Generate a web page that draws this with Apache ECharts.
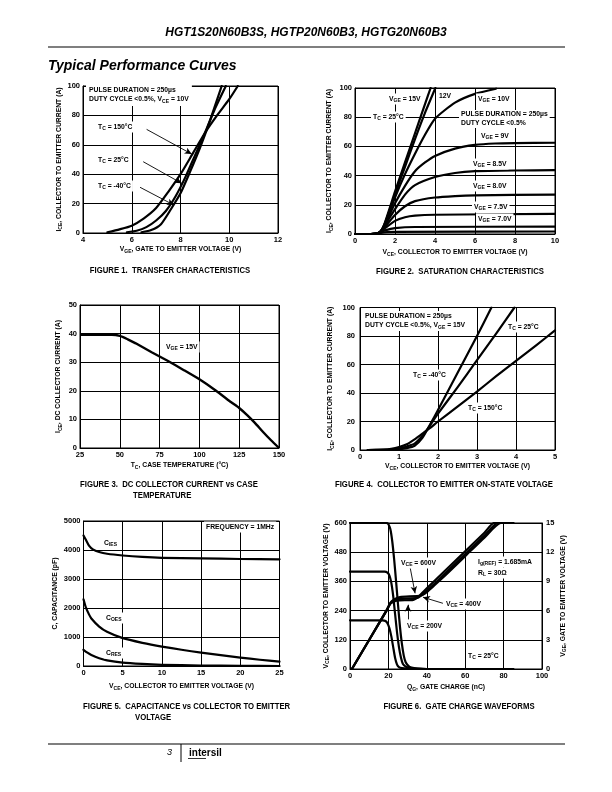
<!DOCTYPE html>
<html><head><meta charset="utf-8">
<script src="https://cdn.jsdelivr.net/npm/echarts@6/dist/echarts.min.js"></script>
<style>html,body{margin:0;padding:0;background:#fff;}#c{width:612px;height:792px;}</style>
</head><body><div id="c"></div>
<script>
// ---------------- DATA ----------------
// Figure 1: transfer characteristics  [VGE, ICE]
const f1XRange = [4, 12, 2];
const f1YRange = [0, 100, 20];
const f1Tc150 = [[5.0,0.5],[5.5,2.5],[6,5],[6.5,10],[7,17],[7.5,28],[8,40],[8.5,54],[9,68],[9.5,80],[10,91],[10.35,100]];
const f1Tc25  = [[5.8,0.5],[6.2,1.5],[6.6,4],[7,8.5],[7.4,15],[7.8,25],[8.2,38],[8.6,53],[9,68],[9.4,84],[9.86,100]];
const f1TcM40 = [[6.4,0.5],[6.8,2],[7.2,6],[7.6,16],[8,27],[8.4,42],[8.8,58],[9.2,76],[9.69,100]];
const f1Arrows = [[[6.61,70.5],[8.46,53.7]], [[6.47,48.5],[8.05,33.8]], [[6.34,31.1],[7.73,19]]];

// Figure 2: saturation characteristics [VCE, ICE]
const f2XRange = [0, 10, 2];
const f2YRange = [0, 100, 20];
const f2Vge15 = [[0,0],[0.8,0],[1.1,0.3],[1.3,2],[1.5,8],[2,29],[2.5,49],[3,69],[3.5,89],[3.78,100]];
const f2Vge12 = [[0,0],[0.8,0],[1.1,0.3],[1.3,2],[1.5,7.5],[2,27],[2.5,46],[3,65],[3.5,83],[4.02,100]];
const f2Vge10 = [[0,0],[0.8,0],[1.1,0.3],[1.3,2],[1.5,7],[2,25],[2.5,41],[3,55],[3.5,68],[4,79],[5,90],[6,96],[7.05,99.5]];
const f2Vge9  = [[0,0],[0.8,0],[1.1,0.3],[1.3,2],[1.5,6.5],[2,21],[2.5,33],[3,43],[3.5,49],[4,53.5],[5,58.5],[6,61],[7,62],[8,62.3],[10,62.5]];
const f2Vge85 = [[0,0],[0.8,0],[1.1,0.3],[1.3,2],[1.5,6],[2,17],[2.5,27],[3,33.5],[4,39],[5,41.8],[6,43],[8,43.5],[10,43.7]];
const f2Vge8  = [[0,0],[0.8,0],[1.1,0.3],[1.3,2],[1.5,5],[2,13],[2.5,19],[3,22.5],[4,25],[5,26],[6,26.5],[10,27]];
const f2Vge75 = [[0,0],[0.8,0],[1.1,0.3],[1.3,1.8],[1.5,4],[2,9],[2.5,11.5],[3,12.6],[4,13.2],[10,13.8]];
const f2Vge7  = [[0,0],[0.8,0],[1.1,0.3],[1.3,1.3],[1.5,2.5],[2,4],[3,4.8],[10,5]];
const f2Vge65 = [[0,0],[0.8,0],[1.1,0.2],[1.3,0.8],[1.6,1.3],[2,1.5],[10,1.7]];

// Figure 3: DC collector current vs case temperature [TC, ICE]
const f3XRange = [25, 150, 25];
const f3YRange = [0, 50, 10];
const f3Vge15 = [[25,39.6],[35,39.6],[45,39.6],[50,39.2],[55,38],[60,36.6],[70,33.5],[80,30.5],[90,27.3],[100,24],[110,20.2],[120,16],[125,14],[130,11.5],[135,8.7],[140,5.6],[145,2.7],[150,0]];

// Figure 4: collector to emitter on-state voltage [VCE, ICE]
const f4XRange = [0, 5, 1];
const f4YRange = [0, 100, 20];
const f4Tc150 = [[0.2,0],[0.6,0.3],[0.8,0.8],[1,2],[1.2,4],[1.4,7.5],[1.6,11.5],[1.8,15.5],[2,20],[2.5,30.5],[3,41],[3.5,52],[4,62.5],[4.5,73],[5,84]];
const f4Tc25  = [[0.2,0],[0.6,0.1],[0.8,0.3],[1,1],[1.2,2.5],[1.4,4.5],[1.6,10],[1.8,17.5],[2,25.5],[2.5,44],[3,63],[3.5,82],[3.96,100]];
const f4TcM40 = [[0.2,0],[0.8,0.1],[1,0.5],[1.2,1.3],[1.4,3],[1.6,8.5],[1.8,18],[2,28],[2.5,54],[3,80],[3.37,100]];

// Figure 5: capacitance vs VCE [VCE, pF]
const f5XRange = [0, 25, 5];
const f5YRange = [0, 5000, 1000];
const f5Cies = [[0,4500],[0.3,4350],[0.7,4150],[1.2,4020],[2,3930],[3,3870],[5,3810],[7.5,3760],[10,3730],[15,3710],[20,3690],[25,3680]];
const f5Coes = [[0,2300],[0.3,2020],[0.7,1780],[1,1640],[2,1360],[3,1180],[5,960],[7.5,800],[10,670],[12.5,560],[15,460],[17.5,375],[20,290],[22.5,215],[25,150]];
const f5Cres = [[0,560],[0.5,460],[1,380],[2,270],[3,195],[5,115],[7.5,70],[10,42],[15,18],[20,6],[25,0]];

// Figure 6: gate charge waveforms [QG nC, VCE V] and [QG, VGE V]
const f6XRange = [0, 100, 20];
const f6YLRange = [0, 600, 120];
const f6YRRange = [0, 15, 3];
const f6Vce200 = [[0,200],[17,200],[18.5,197],[19.5,188],[20.5,168],[21.5,135],[22.5,90],[23.5,45],[24.5,18],[25.5,8],[27,4],[30,2],[40,0],[85,0]];
const f6Vce400 = [[0,400],[18,400],[19.5,396],[20.5,385],[21.5,355],[22.5,300],[23.5,225],[24.5,150],[25.5,90],[26.5,48],[27.5,22],[29,10],[31,5],[34,2],[40,0],[85,0]];
const f6Vce600 = [[0,600],[19,600],[20,595],[21,575],[22,525],[23,450],[24,360],[25,265],[26,175],[27,105],[28,55],[29,28],[30.5,12],[32,6],[35,2],[40,0],[85,0]];
const f6Vge200 = [[1,0],[19,6],[21,6.7],[23,6.95],[26,7.05],[33,7.1],[36,7.5],[40,8.3],[50,10.2],[60,12.1],[70,14.0],[75,15],[85,15]];
const f6Vge400 = [[1,0],[19,6],[21,6.75],[23,7.05],[26,7.2],[35,7.3],[38,7.7],[42,8.4],[50,9.9],[60,11.8],[70,13.7],[77,15],[85,15]];
const f6Vge600 = [[1,0],[19,6],[21,6.8],[23,7.15],[26,7.4],[37,7.55],[40,7.9],[44,8.6],[50,9.7],[60,11.6],[70,13.5],[78.5,15],[85,15]];
const f6Arrows = [[[31.25,420],[33.9,311]], [[48.4,270],[38,295]], [[30.2,204],[30.2,264]]];

// ---------------- STYLE / LAYOUT ----------------
const FONT = '"Liberation Sans", Arial, Helvetica, sans-serif';
const RICH = { s: {fontSize:5, fontWeight:'bold', fontFamily:FONT, color:'#000', verticalAlign:'bottom', lineHeight:3} };
const GRICH = { s: {font:'bold 5px '+FONT, fill:'#000', verticalAlign:'bottom', lineHeight:3} };

const grids = [
  {left:83, top:86, width:195, height:147},
  {left:355, top:88, width:200, height:146},
  {left:80, top:305, width:199, height:143},
  {left:360, top:307.5, width:195, height:142.5},
  {left:83.5, top:521, width:196, height:145},
  {left:350, top:523, width:192, height:146}
].map(g => Object.assign({show:true, borderColor:'#000', borderWidth:1, containLabel:false}, g));

function axis(gi, range, name, gap, margin, extra) {
  return Object.assign({
    gridIndex: gi, type:'value', min: range[0], max: range[1], interval: range[2],
    name: name, nameLocation:'middle', nameGap: gap,
    nameTextStyle: {fontSize:6.8, fontWeight:'bold', fontFamily:FONT, color:'#000', lineHeight:9, rich: RICH},
    axisLine: {show:true, lineStyle:{color:'#000', width:1}},
    axisTick: {show:false},
    axisLabel: {color:'#000', fontSize:7.5, fontWeight:'bold', fontFamily:FONT, margin: margin, hideOverlap:false,
      showMinLabel:true, showMaxLabel:true, formatter: v => String(v)},
    splitLine: {show:true, lineStyle:{color:'#000', width:1}}
  }, extra || {});
}

const xAxes = [
  axis(0, f1XRange, 'V{s|GE}, GATE TO EMITTER VOLTAGE (V)', 10, 3),
  axis(1, f2XRange, 'V{s|CE}, COLLECTOR TO EMITTER VOLTAGE (V)', 14, 3),
  axis(2, f3XRange, 'T{s|C}, CASE TEMPERATURE (°C)', 13, 3),
  axis(3, f4XRange, 'V{s|CE}, COLLECTOR TO EMITTER VOLTAGE (V)', 12, 3),
  axis(4, f5XRange, 'V{s|CE}, COLLECTOR TO EMITTER VOLTAGE (V)', 16, 3),
  axis(5, f6XRange, 'Q{s|G}, GATE CHARGE (nC)', 14, 3)
];
const yAxes = [
  axis(0, f1YRange, 'I{s|CE}, COLLECTOR TO EMITTER CURRENT (A)', 16, 3, {nameRotate:90}),
  axis(1, f2YRange, 'I{s|CE}, COLLECTOR TO EMITTER CURRENT (A)', 21, 3, {nameRotate:90}),
  axis(2, f3YRange, 'I{s|CE}, DC COLLECTOR CURRENT (A)', 17, 3, {nameRotate:90}),
  axis(3, f4YRange, 'I{s|CE}, COLLECTOR TO EMITTER CURRENT (A)', 25, 5, {nameRotate:90}),
  axis(4, f5YRange, 'C, CAPACITANCE (pF)', 20, 3, {nameRotate:90}),
  axis(5, f6YLRange, 'V{s|CE}, COLLECTOR TO EMITTER VOLTAGE (V)', 18, 3, {nameRotate:90}),
  axis(5, f6YRRange, 'V{s|GE}, GATE TO EMITTER VOLTAGE (V)', 14, 4, {nameRotate:90, position:'right', splitLine:{show:false}})
];

function ln(gi, yi, data, extra) {
  return Object.assign({
    type:'line', xAxisIndex: gi, yAxisIndex: yi, data: data,
    showSymbol:false, symbol:'none', smooth:0.2,
    lineStyle:{color:'#000', width:2.2, join:'round', cap:'round'}, silent:true, animation:false, z:3
  }, extra || {});
}
function arrows(list) {
  return {
    silent:true, animation:false, symbol:['none','arrow'], symbolSize:[5,7],
    label:{show:false}, lineStyle:{color:'#000', width:0.9, type:'solid'},
    data: list.map(a => [{coord:a[0]}, {coord:a[1]}])
  };
}

const series = [
  ln(0,0,f1Tc150,{markLine: arrows(f1Arrows)}), ln(0,0,f1Tc25), ln(0,0,f1TcM40),
  ln(1,1,f2Vge15), ln(1,1,f2Vge12), ln(1,1,f2Vge10), ln(1,1,f2Vge9), ln(1,1,f2Vge85),
  ln(1,1,f2Vge8), ln(1,1,f2Vge75), ln(1,1,f2Vge7), ln(1,1,f2Vge65),
  ln(2,2,f3Vge15, {lineStyle:{color:'#000', width:2.4}}),
  ln(3,3,f4Tc150), ln(3,3,f4Tc25), ln(3,3,f4TcM40),
  ln(4,4,f5Cies), ln(4,4,f5Coes), ln(4,4,f5Cres),
  ln(5,5,f6Vce200), ln(5,5,f6Vce400), ln(5,5,f6Vce600, {markLine: arrows(f6Arrows)}),
  ln(5,6,f6Vge200), ln(5,6,f6Vge400), ln(5,6,f6Vge600)
];

function T(x, y, text, o, extra) {
  return Object.assign({type:'text', x:x, y:y, silent:true, z:100,
    style: Object.assign({text:text, fill:'#000', font:'bold 6.8px '+FONT, textAlign:'left',
      textVerticalAlign:'middle', lineHeight:9, rich:GRICH}, o || {})}, extra || {});
}
const BG = {backgroundColor:'#fff', padding:[1,2]};
function cap(x, y, text, align) {
  return T(x, y, text, {font:'bold 9px '+FONT, textAlign: align || 'center'}, {scaleX:0.86});
}

const graphics = [
  // header
  T(306, 33, 'HGT1S20N60B3S, HGTP20N60B3, HGTG20N60B3', {font:'italic bold 12px '+FONT, textAlign:'center'}),
  {type:'line', silent:true, shape:{x1:48, y1:47, x2:565, y2:47}, style:{stroke:'#000', lineWidth:1.2}},
  T(48, 66, 'Typical Performance Curves', {font:'italic bold 14px '+FONT}),
  // fig 1
  T(86, 95, 'PULSE DURATION = 250µs\nDUTY CYCLE <0.5%, V{s|CE} = 10V', {backgroundColor:'#fff', padding:[2,3]}),
  T(96, 127, 'T{s|C} = 150°C', BG),
  T(96, 160, 'T{s|C} = 25°C', BG),
  T(96, 186, 'T{s|C} = -40°C', BG),
  cap(170, 271, 'FIGURE 1.  TRANSFER CHARACTERISTICS'),
  // fig 2
  T(387, 99, 'V{s|GE} = 15V', BG),
  T(437, 96, '12V', BG),
  T(476, 99, 'V{s|GE} = 10V', BG),
  T(371, 117, 'T{s|C} = 25°C', BG),
  T(459, 119, 'PULSE DURATION = 250µs\nDUTY CYCLE <0.5%', {backgroundColor:'#fff', padding:[0,2]}),
  T(479, 136, 'V{s|GE} = 9V', BG),
  T(471, 164, 'V{s|GE} = 8.5V', BG),
  T(471, 186, 'V{s|GE} = 8.0V', BG),
  T(472, 207, 'V{s|GE} = 7.5V', BG),
  T(476, 219, 'V{s|GE} = 7.0V', BG),
  cap(460, 272, 'FIGURE 2.  SATURATION CHARACTERISTICS'),
  // fig 3
  T(164, 347, 'V{s|GE} = 15V', BG),
  cap(80, 485, 'FIGURE 3.  DC COLLECTOR CURRENT vs CASE', 'left'),
  cap(133, 496, 'TEMPERATURE', 'left'),
  // fig 4
  T(363, 321, 'PULSE DURATION = 250µs\nDUTY CYCLE <0.5%, V{s|GE} = 15V', {backgroundColor:'#fff', padding:[1,2]}),
  T(506, 327, 'T{s|C} = 25°C', BG),
  T(411, 375, 'T{s|C} = -40°C', BG),
  T(466, 408, 'T{s|C} = 150°C', BG),
  cap(444, 485, 'FIGURE 4.  COLLECTOR TO EMITTER ON-STATE VOLTAGE'),
  // fig 5
  T(102, 543, 'C{s|IES}', BG),
  T(104, 618, 'C{s|OES}', BG),
  T(104, 653, 'C{s|RES}', BG),
  T(204, 527, 'FREQUENCY = 1MHz', BG),
  cap(83, 707, 'FIGURE 5.  CAPACITANCE vs COLLECTOR TO EMITTER', 'left'),
  cap(135, 718, 'VOLTAGE', 'left'),
  // fig 6
  T(399, 563, 'V{s|CE} = 600V', BG),
  T(444, 604, 'V{s|CE} = 400V', BG),
  T(405, 626, 'V{s|CE} = 200V', BG),
  T(476, 562, 'I{s|g(REF)} = 1.685mA', BG),
  T(476, 573, 'R{s|L} = 30Ω', BG),
  T(466, 656, 'T{s|C} = 25°C', BG),
  cap(459, 707, 'FIGURE 6.  GATE CHARGE WAVEFORMS'),
  // footer
  {type:'line', silent:true, shape:{x1:48, y1:744, x2:565, y2:744}, style:{stroke:'#000', lineWidth:1.2}},
  {type:'line', silent:true, shape:{x1:181, y1:744, x2:181, y2:762}, style:{stroke:'#000', lineWidth:1}},
  T(167, 752, '3', {font:'italic 9px '+FONT}),
  T(189, 753, 'intersil', {font:'bold 10px '+FONT}),
  {type:'line', silent:true, shape:{x1:188, y1:758.5, x2:206, y2:758.5}, style:{stroke:'#000', lineWidth:0.8}}
];

const chart = echarts.init(document.getElementById('c'), null, {renderer:'canvas', width:612, height:792});
chart.setOption({
  backgroundColor:'#fff',
  animation:false,
  grid: grids,
  xAxis: xAxes,
  yAxis: yAxes,
  series: series,
  graphic: graphics
});
</script></body></html>
